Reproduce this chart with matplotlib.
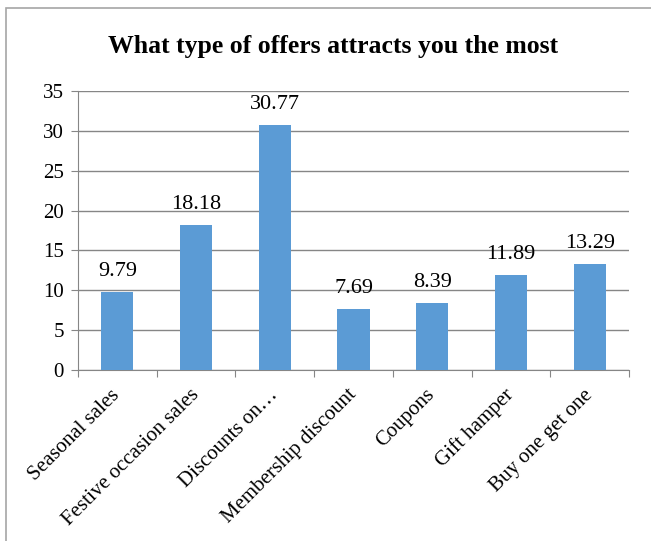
import matplotlib.pyplot as plt
from matplotlib.patches import Rectangle

# -----------------------
# Data
# -----------------------
categories = ['Seasonal sales', 'Festive occasion sales', 'Discounts on…',
              'Membership discount', 'Coupons', 'Gift hamper', 'Buy one get one']
values = [9.79, 18.18, 30.77, 7.69, 8.39, 11.89, 13.29]
yticks = [0, 5, 10, 15, 20, 25, 30, 35]

plt.rcParams['font.family'] = ['Liberation Serif', 'DejaVu Serif']

W, H = 651, 541
fig = plt.figure(figsize=(W / 100, H / 100), dpi=100)
# outer chart border (cut off on right/bottom)
fig.patches.append(Rectangle((6 / W, -0.1), 1.2, 1 - 8 / H + 0.1, transform=fig.transFigure,
                             fill=False, edgecolor='#a6a6a6', linewidth=1.2))

ax = fig.add_axes([78 / W, 1 - 370 / H, (629 - 78) / W, (370 - 91) / H])
x = range(len(categories))
ax.bar(x, values, width=0.41, color='#5b9bd5', zorder=3)

for xi, v in zip(x, values):
    ax.annotate(f'{v:.2f}', (xi, v), xytext=(0, 8), textcoords='offset points',
                ha='center', va='bottom', fontsize=16)

ax.set_xlim(-0.5, len(categories) - 0.5)
ax.set_ylim(0, 35)
ax.set_yticks(yticks)
ax.set_yticklabels([str(t) for t in yticks], fontsize=15)
ax.yaxis.grid(True, color='#868686', linewidth=1, zorder=0)
ax.tick_params(axis='y', length=5, color='#868686', pad=5)

# category boundary ticks
ax.set_xticks([i - 0.5 for i in range(len(categories) + 1)])
ax.set_xticklabels([])
ax.tick_params(axis='x', length=5, color='#868686')
ax.set_xticks(list(x), minor=True)
ax.set_xticklabels(categories, minor=True, fontsize=15, rotation=45,
                   ha='right', va='center', rotation_mode='anchor')
ax.tick_params(axis='x', which='minor', length=0, pad=16)

for s in ['top', 'right']:
    ax.spines[s].set_visible(False)
for s in ['left', 'bottom']:
    ax.spines[s].set_color('#868686')

fig.text(333 / W, 1 - 53 / H, 'What type of offers attracts you the most',
         ha='center', va='baseline', fontsize=18.5, fontweight='bold')

fig.savefig('out.png', dpi=100)
